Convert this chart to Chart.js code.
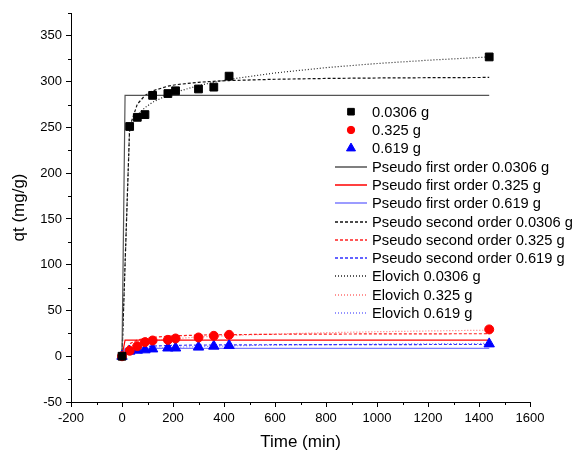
<!DOCTYPE html>
<html>
<head>
<meta charset="utf-8">
<script src="https://cdn.jsdelivr.net/npm/chart.js@4.4.1/dist/chart.umd.min.js"></script>
<style>
  html, body { margin: 0; padding: 0; background: #fff; }
  #wrap { width: 576px; height: 455px; }
</style>
</head>
<body>
<div id="wrap"><canvas id="kinetics"></canvas></div>
<script>
// --- dados ---
const timeExp = [0, 30, 60, 90, 120, 180, 210, 300, 360, 420, 1440];
const qExp1 = [0, 251, 261, 264, 285, 287, 290, 292, 294, 306, 327];   // 0.0306 g
const qExp2 = [0, 6, 11, 15.4, 17.2, 17.9, 19.4, 20.5, 22.3, 23.4, 29.3]; // 0.325 g
const qExp3 = [0, 5.5, 6.6, 7, 8, 9, 9, 10, 11, 11.7, 13.5];            // 0.619 g

// pseudo primeira ordem
const timePFO = [0, 12, 30, 60, 120, 300, 600, 1000, 1440];
const pfo1 = [0, 285, 285, 285, 285, 285, 285, 285, 285];
const pfo2 = [0, 17.5, 17.5, 17.5, 17.5, 17.5, 17.5, 17.5, 17.5];
const pfo3 = [0, 8.5, 8.5, 8.5, 8.5, 8.5, 8.5, 8.5, 8.5];

// pseudo segunda ordem e Elovich
const timeFit = [0, 30, 60, 90, 120, 180, 210, 300, 360, 420, 600, 800, 1000, 1200, 1440];
const pso1 = [0, 250.4, 275.4, 284.9, 289.9, 295.1, 296.6, 299.3, 300.4, 301.2, 302.6, 303.5, 304, 304.3, 304.6];
const pso2 = [0, 13.6, 17.6, 19.6, 20.7, 21.9, 22.3, 23.1, 23.4, 23.6, 24.0, 24.2, 24.4, 24.5, 24.6];
const pso3 = [0, 7.8, 9.75, 10.6, 11.1, 11.7, 11.9, 12.2, 12.3, 12.4, 12.6, 12.7, 12.75, 12.8, 12.8];
const elo1 = [0, 249.7, 263.5, 271.6, 277.5, 285.5, 288.5, 295.7, 299.3, 302.5, 309.5, 315.3, 319.8, 323.4, 327];
const elo2 = [0, 10.5, 13.5, 15.4, 16.7, 18.6, 19.3, 21.0, 21.9, 22.6, 24.3, 25.7, 26.8, 27.6, 28.5];
const elo3 = [0, 5.6, 7.1, 7.9, 8.6, 9.4, 9.8, 10.5, 10.9, 11.3, 12.1, 12.7, 13.2, 13.6, 14.0];

const xMin = -200, xMax = 1600, xStep = 100, xLabelStep = 200;
const yMin = -50, yMax = 375, yStep = 25, yLabelStep = 50;

const fontFamily = '"Liberation Sans", Arial, sans-serif';
Chart.defaults.font.family = fontFamily;
Chart.defaults.color = '#000';

function pts(ts, qs) {
  return ts.map((t, i) => ({ x: t, y: qs[i] }));
}

// estilos de cada série (usados no gráfico e na legenda)
const series = [
  { label: '0.0306 g', t: timeExp, q: qExp1, color: '#000000', point: 'rect', r: 5.5 },
  { label: '0.325 g', t: timeExp, q: qExp2, color: '#ff0000', point: 'circle', r: 4.5 },
  { label: '0.619 g', t: timeExp, q: qExp3, color: '#0000ff', point: 'triangle', r: 6 },
  { label: 'Pseudo first order 0.0306 g', t: timePFO, q: pfo1, color: '#555555', dash: [] },
  { label: 'Pseudo first order 0.325 g', t: timePFO, q: pfo2, color: '#ff0000', dash: [] },
  { label: 'Pseudo first order 0.619 g', t: timePFO, q: pfo3, color: '#7b7bff', dash: [] },
  { label: 'Pseudo second order 0.0306 g', t: timeFit, q: pso1, color: '#111111', dash: [3, 2] },
  { label: 'Pseudo second order 0.325 g', t: timeFit, q: pso2, color: '#ff2020', dash: [3, 2] },
  { label: 'Pseudo second order 0.619 g', t: timeFit, q: pso3, color: '#3030ff', dash: [3, 2] },
  { label: 'Elovich 0.0306 g', t: timeFit, q: elo1, color: '#222222', dash: [1, 2] },
  { label: 'Elovich 0.325 g', t: timeFit, q: elo2, color: '#ff7070', dash: [1, 2] },
  { label: 'Elovich 0.619 g', t: timeFit, q: elo3, color: '#7070ff', dash: [1, 2] }
];

const datasets = series.map(s => s.point ? {
  label: s.label, data: pts(s.t, s.q), showLine: false,
  pointStyle: s.point, pointRadius: s.r, pointHoverRadius: s.r,
  backgroundColor: s.color, borderColor: s.color, borderWidth: 1
} : {
  label: s.label, data: pts(s.t, s.q), showLine: true,
  pointRadius: 0, pointHoverRadius: 0,
  borderColor: s.color, backgroundColor: s.color, borderWidth: 1.2,
  borderDash: s.dash, tension: 0, fill: false
});

// ticks menores (mais curtos)
const minorTicks = {
  id: 'minorTicks',
  afterDraw(chart) {
    const ctx = chart.ctx;
    const xs = chart.scales.x, ys = chart.scales.y;
    ctx.save();
    ctx.strokeStyle = '#000';
    ctx.lineWidth = 1;
    ctx.beginPath();
    for (let v = xMin; v <= xMax; v += xStep) {
      if (v % xLabelStep === 0) continue;
      const px = Math.round(xs.getPixelForValue(v)) + 0.5;
      ctx.moveTo(px, xs.top);
      ctx.lineTo(px, xs.top + 3);
    }
    for (let v = yMin; v <= yMax; v += yStep) {
      if (v % yLabelStep === 0) continue;
      const py = Math.round(ys.getPixelForValue(v)) + 0.5;
      ctx.moveTo(ys.right, py);
      ctx.lineTo(ys.right - 3, py);
    }
    ctx.stroke();
    ctx.restore();
  }
};

// legenda dentro da área do gráfico
const insideLegend = {
  id: 'insideLegend',
  afterDraw(chart) {
    const ctx = chart.ctx;
    const x0 = 335, x1 = 367, xm = 351, xt = 372;
    let y = 111.7;
    const step = 18.3;
    ctx.save();
    ctx.font = '14.7px ' + fontFamily;
    ctx.textBaseline = 'middle';
    ctx.textAlign = 'left';
    series.forEach(s => {
      ctx.save();
      if (!s.point) {
        ctx.strokeStyle = s.color;
        ctx.lineWidth = 1.5;
        ctx.setLineDash(s.dash);
        ctx.beginPath();
        ctx.moveTo(x0, Math.round(y));
        ctx.lineTo(x1, Math.round(y));
        ctx.stroke();
      } else {
        ctx.fillStyle = s.color;
        ctx.strokeStyle = s.color;
        ctx.lineWidth = 1;
        Chart.helpers.drawPoint(ctx, { pointStyle: s.point, radius: s.r - 0.8, borderWidth: 1 }, xm, y);
      }
      ctx.restore();
      ctx.fillStyle = '#000';
      ctx.fillText(s.label, xt, y + 1);
      y += step;
    });
    ctx.restore();
  }
};

const ctx = document.getElementById('kinetics').getContext('2d');
new Chart(ctx, {
  type: 'scatter',
  data: { datasets },
  options: {
    animation: false,
    responsive: true,
    maintainAspectRatio: false,
    layout: { padding: { top: 13, right: 46, left: 0, bottom: 0 } },
    plugins: { legend: { display: false }, tooltip: { enabled: false } },
    scales: {
      x: {
        type: 'linear', min: xMin, max: xMax,
        afterFit(scale) { scale.height = 53; },
        ticks: {
          stepSize: xStep, autoSkip: false, maxRotation: 0, padding: 4,
          font: { size: 13 }, color: '#000',
          callback: v => (v % xLabelStep === 0 ? v : '')
        },
        grid: {
          drawOnChartArea: false, drawTicks: true, tickLength: 5, tickWidth: 1,
          tickColor: c => (c.tick && c.tick.value % xLabelStep === 0 ? '#000' : 'rgba(0,0,0,0)')
        },
        border: { display: true, color: '#000', width: 1 },
        title: { display: true, text: 'Time (min)', font: { size: 17 }, color: '#000', padding: { top: 0, bottom: 2 } }
      },
      y: {
        type: 'linear', min: yMin, max: yMax,
        afterFit(scale) { scale.width = 71; },
        ticks: {
          stepSize: yStep, autoSkip: false, padding: 4,
          font: { size: 13 }, color: '#000',
          callback: v => (v % yLabelStep === 0 ? v : '')
        },
        grid: {
          drawOnChartArea: false, drawTicks: true, tickLength: 5, tickWidth: 1,
          tickColor: c => (c.tick && c.tick.value % yLabelStep === 0 ? '#000' : 'rgba(0,0,0,0)')
        },
        border: { display: true, color: '#000', width: 1 },
        title: { display: true, text: 'qt (mg/g)', font: { size: 17 }, color: '#000', padding: { top: 9, bottom: 0 } }
      }
    }
  },
  plugins: [minorTicks, insideLegend]
});
</script>
</body>
</html>
